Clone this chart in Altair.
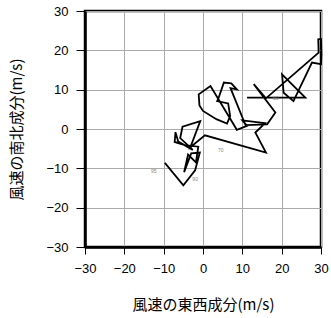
import altair as alt
import pandas as pd

# wind hodograph: east-west (u) and north-south (v) components, m/s
u = [-9.7, -5.0, -2.0, -0.8, -3.0, -4.8, -3.8, -1.8, -1.2, -4.6, -7.2, -7.0, -6.3, -2.6,
     -5.8, -5.2, -0.7, -3.2, 0.5, 16.0, 13.3, 15.8, 10.0, 11.2, 8.6, 7.0, 1.9, -1.1, -0.9,
     0.0, 3.4, 6.1, 6.9, 6.4, 3.6, 4.0, 5.3, 7.2, 8.6, 7.0, 10.8, 16.3, 18.4, 12.9, 16.0,
     29.4, 29.3, 30.0, 30.1, 30.0, 27.7, 23.0, 20.5, 20.1, 26.0, 11.2]
v = [-8.6, -14.3, -10.5, -6.0, -6.2, -11.0, -6.5, -8.5, -4.5, -4.1, -3.3, -0.8, -3.2, -5.3,
     -2.3, 0.6, 2.0, -4.6, -1.6, -6.0, -0.9, 1.5, 2.2, 0.8, -0.2, 2.5, 10.9, 8.8, 6.0,
     4.6, 2.5, 1.4, 3.3, 6.5, 7.1, 8.0, 11.8, 11.6, 10.1, 10.4, 1.0, 1.2, 4.2, 11.4, 7.8,
     19.4, 22.8, 22.9, 19.0, 16.5, 16.9, 7.1, 9.2, 13.9, 8.0, 8.0]

label_text = ["95", "90", "70", "50"]
label_u = [-12.5, -2.0, 4.5, 18.5]
label_v = [-10.8, -12.8, -5.3, 8.0]

ticks = [-30, -20, -10, 0, 10, 20, 30]

df = pd.DataFrame({"u": u, "v": v, "order": list(range(len(u)))})
lab = pd.DataFrame({"u": label_u, "v": label_v, "t": label_text})

xscale = alt.Scale(domain=[-30, 30], nice=False, zero=False)
yscale = alt.Scale(domain=[-30, 30], nice=False, zero=False)

xaxis = alt.Axis(values=ticks, tickCount=20, title="風速の東西成分(m/s)", grid=True,
                 gridColor="#aaaaaa", gridWidth=1, tickColor="black", tickSize=7, tickWidth=1,
                 domain=True, domainColor="black", domainWidth=2.5,
                 labelOverlap=False, labelFlush=False,
                 labelFont="Liberation Sans", labelFontSize=13, labelColor="black",
                 labelPadding=8, titleFont="Noto Sans CJK JP", titleFontSize=15,
                 titleFontWeight="normal", titleColor="black", titlePadding=22)
yaxis = alt.Axis(values=ticks, tickCount=20, title="風速の南北成分(m/s)", grid=True,
                 gridColor="#aaaaaa", gridWidth=1, tickColor="black", tickSize=9, tickWidth=1,
                 domain=True, domainColor="black", domainWidth=2.5,
                 labelOverlap=False, labelFlush=False,
                 labelFont="Liberation Sans", labelFontSize=13, labelColor="black",
                 labelPadding=8, titleFont="Noto Sans CJK JP", titleFontSize=15,
                 titleFontWeight="normal", titleColor="black", titlePadding=21)

line = alt.Chart(df).mark_line(color="black", strokeWidth=1.8, strokeJoin="miter").encode(
    x=alt.X("u:Q", scale=xscale, axis=xaxis),
    y=alt.Y("v:Q", scale=yscale, axis=yaxis),
    order="order:Q",
)

text = alt.Chart(lab).mark_text(fontSize=5, color="#888888", font="Liberation Sans").encode(
    x=alt.X("u:Q", scale=xscale, axis=xaxis),
    y=alt.Y("v:Q", scale=yscale, axis=yaxis),
    text="t:N",
)

chart = alt.layer(line, text).properties(
    width=236, height=236,
    padding={"left": 85, "top": 11, "right": 10, "bottom": 71},
    autosize=alt.AutoSizeParams(type="none"),
    background="white",
).configure_view(stroke="black", strokeWidth=2.5)

chart.save("out.html", embed_options={"renderer": "svg", "actions": False})
